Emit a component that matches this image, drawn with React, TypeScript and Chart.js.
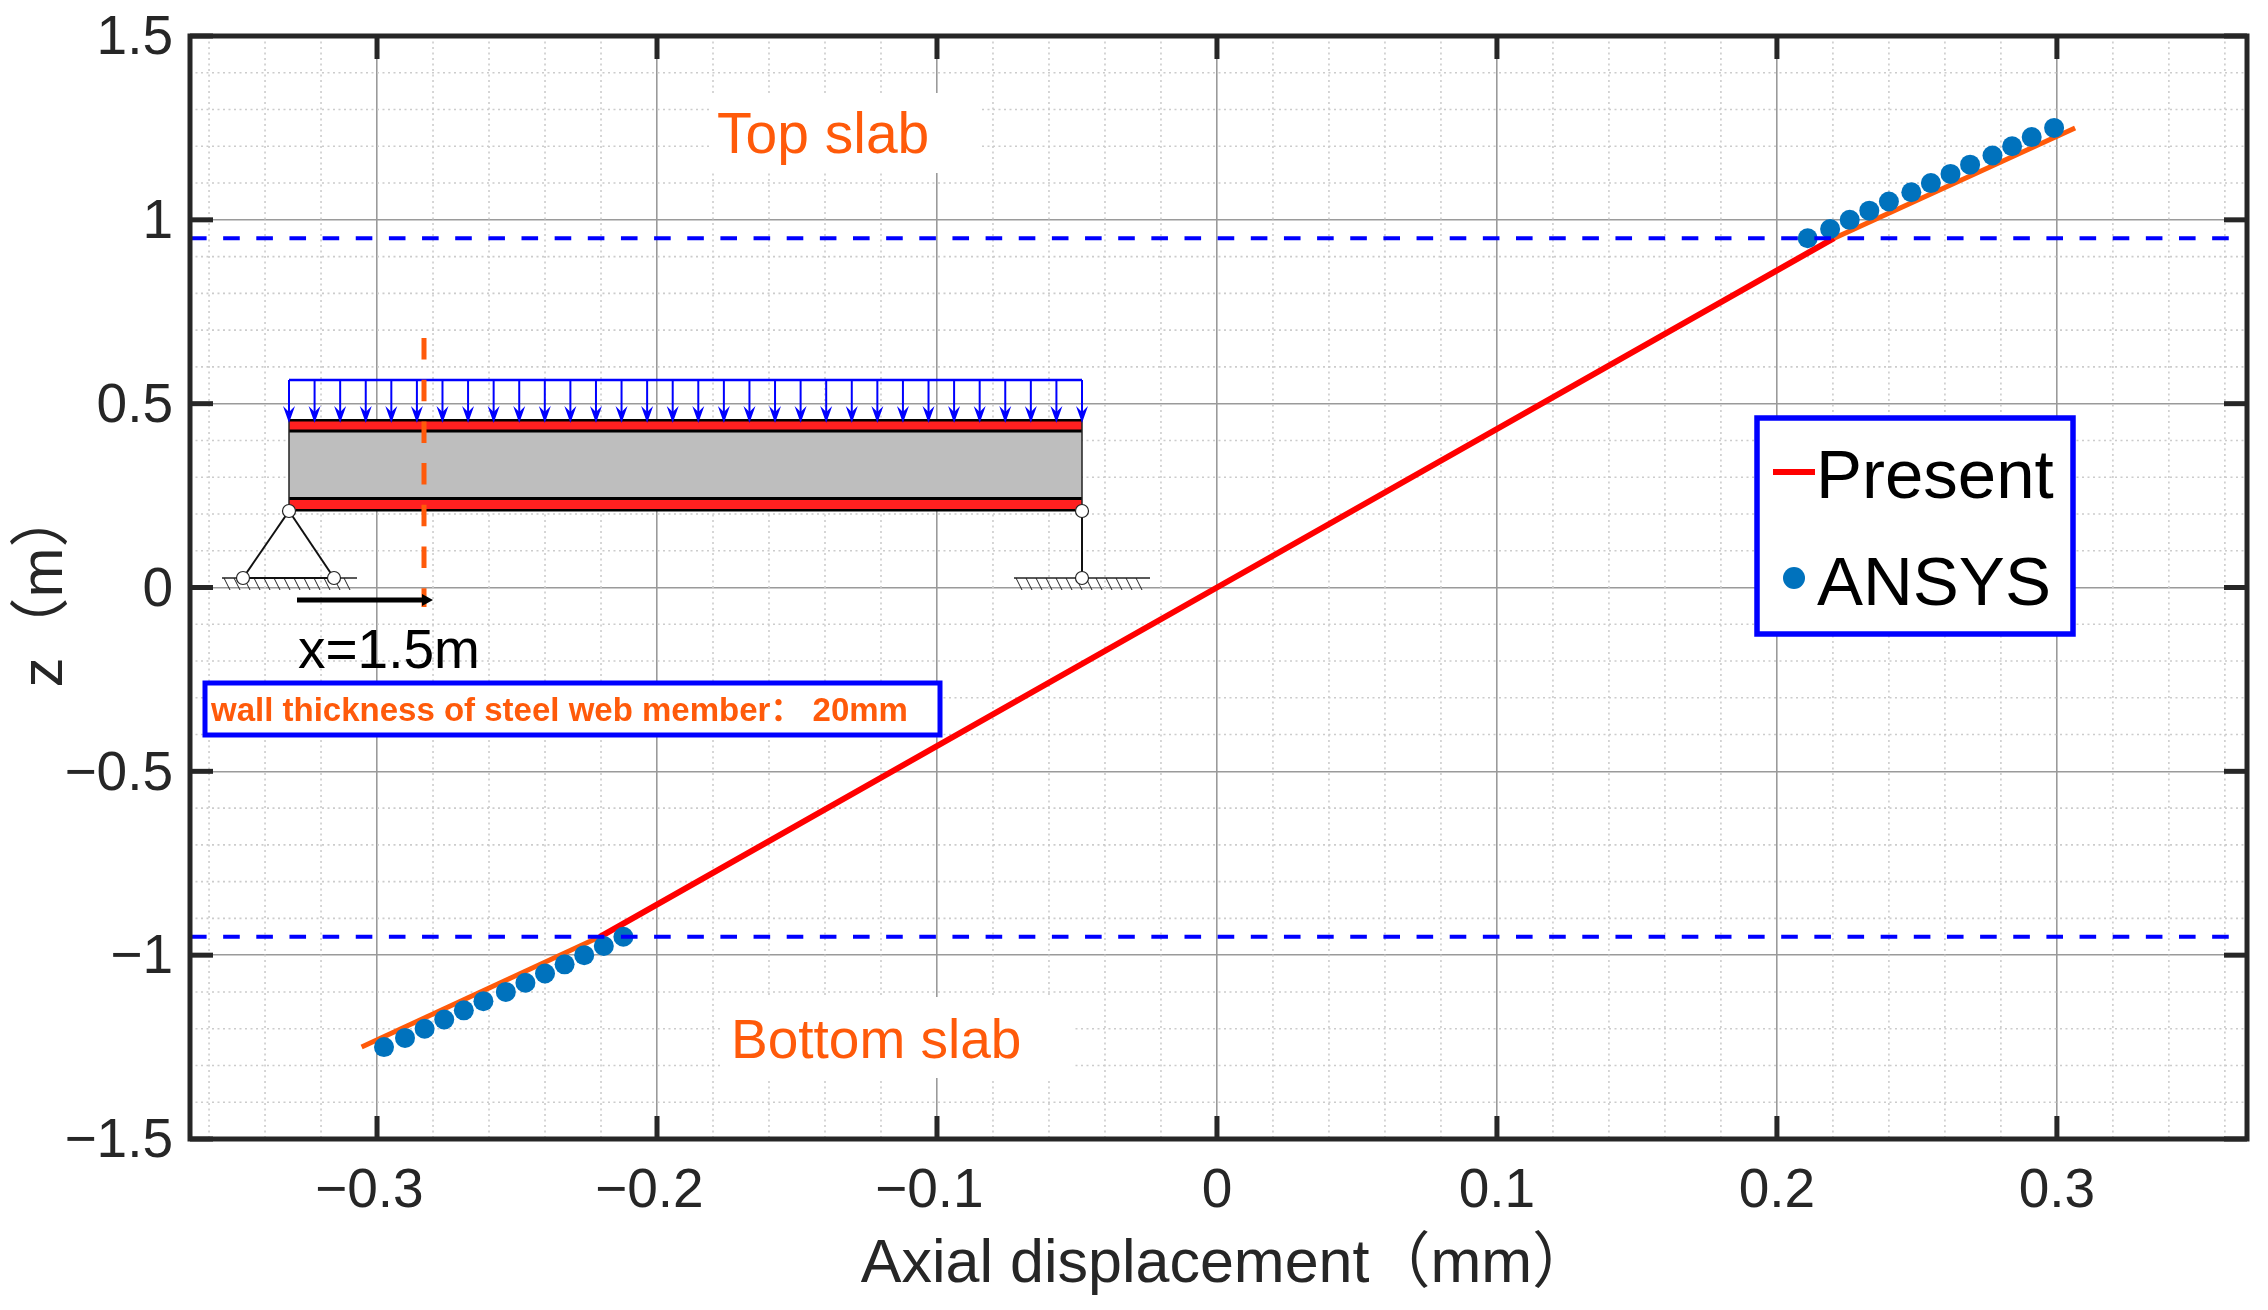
import React, { useEffect, useRef } from "react";
import { Chart, registerables } from "chart.js";

Chart.register(...registerables);

const FONT = '"Liberation Sans","Noto Sans CJK SC",sans-serif';
const xTicks = [-0.3, -0.2, -0.1, 0, 0.1, 0.2, 0.3];
const yTicks = [-1.5, -1, -0.5, 0, 0.5, 1, 1.5];
const xMinor = [-0.36, -0.34, -0.32, -0.28, -0.26, -0.24, -0.22, -0.18, -0.16, -0.14, -0.12, -0.08, -0.06, -0.04, -0.02, 0.02, 0.04, 0.06, 0.08, 0.12, 0.14, 0.16, 0.18, 0.22, 0.24, 0.26, 0.28, 0.32, 0.34, 0.36];
const yMinor = [-1.4, -1.3, -1.2, -1.1, -0.9, -0.8, -0.7, -0.6, -0.4, -0.3, -0.2, -0.1, 0.1, 0.2, 0.3, 0.4, 0.6, 0.7, 0.8, 0.9, 1.1, 1.2, 1.3, 1.4];
const xRange = [-0.3668, 0.3679];
const yRange = [-1.5, 1.5];

const webX = [-0.2204, 0, 0.2204];
const webZ = [-0.95, 0, 0.95];
const topSlabX = [0.2204, 0.3065];
const topSlabZ = [0.95, 1.25];
const bottomSlabX = [-0.3055, -0.2204];
const bottomSlabZ = [-1.25, -0.95];

const ansysTopX = [0.211, 0.219, 0.226, 0.233, 0.24, 0.248, 0.255, 0.262, 0.269, 0.277, 0.284, 0.291, 0.299];
const ansysTopZ = [0.95, 0.975, 1.0, 1.025, 1.05, 1.075, 1.1, 1.125, 1.15, 1.175, 1.2, 1.225, 1.25];
const ansysBottomX = [-0.2975, -0.29, -0.283, -0.276, -0.269, -0.262, -0.254, -0.247, -0.24, -0.233, -0.226, -0.219, -0.212];
const ansysBottomZ = [-1.25, -1.225, -1.2, -1.175, -1.15, -1.125, -1.1, -1.075, -1.05, -1.025, -1.0, -0.975, -0.95];

const boundaryX = [-0.3668, 0.3679];
const boundaryTopZ = [0.95, 0.95];
const boundaryBottomZ = [-0.95, -0.95];

const xTitle = " Axial displacement（mm）";
const yTitle = "z（m）";
const legendLabels = ["Present", "ANSYS"];
const noteTop = "Top slab";
const noteBottom = "Bottom slab";
const noteX = "x=1.5m";
const noteWall = "wall thickness of steel web member： 20mm";

const RED = "#ff0000";
const ORANGE = "#ff5a0a";
const BLUE = "#0000ff";
const MARK = "#0072bd";
const INK = "#262626";

const pts = (xs: number[], ys: number[]) => xs.map((x, i) => ({ x, y: ys[i] }));
const fmt = (v: number) => String(v).replace("-", "−");

function line(c: CanvasRenderingContext2D, x0: number, y0: number, x1: number, y1: number) {
  c.beginPath();
  c.moveTo(x0, y0);
  c.lineTo(x1, y1);
  c.stroke();
}

function ground(c: CanvasRenderingContext2D, x0: number, x1: number, y: number) {
  c.strokeStyle = "#222";
  c.lineWidth = 1.5;
  line(c, x0, y, x1, y);
  c.lineWidth = 1;
  for (let x = x0 + 2; x < x1 - 4; x += 10) line(c, x, y, x + 6, y + 12);
}

function pin(c: CanvasRenderingContext2D, x: number, y: number) {
  c.beginPath();
  c.arc(x, y, 6.5, 0, Math.PI * 2);
  c.fillStyle = "#fff";
  c.fill();
  c.strokeStyle = "#222";
  c.lineWidth = 1.2;
  c.stroke();
}

function drawInset(c: CanvasRenderingContext2D) {
  const L = 289;
  const R = 1082;
  c.save();
  // beam
  c.fillStyle = "#bebebe";
  c.fillRect(L, 431, R - L, 67);
  c.fillStyle = "#ff2020";
  c.fillRect(L, 420, R - L, 11);
  c.fillRect(L, 498, R - L, 12);
  c.fillStyle = "#000";
  c.fillRect(L, 419, R - L, 2.5);
  c.fillRect(L, 429.5, R - L, 3);
  c.fillRect(L, 497, R - L, 3);
  c.fillRect(L, 509, R - L, 2.5);
  c.strokeStyle = "#222";
  c.lineWidth = 1.5;
  line(c, L, 420, L, 510);
  line(c, R, 420, R, 510);
  // load
  c.strokeStyle = BLUE;
  c.fillStyle = BLUE;
  c.lineWidth = 2.5;
  line(c, L, 380, R, 380);
  const step = (R - L) / 31;
  for (let i = 0; i < 32; i++) {
    const x = L + i * step;
    c.lineWidth = 2;
    line(c, x, 380, x, 416);
    c.beginPath();
    c.moveTo(x, 423);
    c.lineTo(x - 6, 406);
    c.lineTo(x, 412);
    c.lineTo(x + 6, 406);
    c.closePath();
    c.fill();
  }
  // supports
  ground(c, 222, 357, 578);
  ground(c, 1014, 1150, 578);
  c.strokeStyle = "#111";
  c.lineWidth = 2;
  line(c, L, 511, 243, 578);
  line(c, L, 511, 334, 578);
  line(c, 243, 578, 334, 578);
  line(c, R, 511, R, 578);
  pin(c, L, 511);
  pin(c, R, 511);
  pin(c, 243, 578);
  pin(c, 334, 578);
  pin(c, R, 578);
  // section marker
  c.strokeStyle = ORANGE;
  c.lineWidth = 5;
  c.setLineDash([21.5, 20.2]);
  line(c, 424, 338, 424, 607);
  c.setLineDash([]);
  c.strokeStyle = "#000";
  c.fillStyle = "#000";
  c.lineWidth = 5;
  line(c, 297, 600, 425, 600);
  c.beginPath();
  c.moveTo(433, 600);
  c.lineTo(422, 594);
  c.lineTo(422, 606);
  c.closePath();
  c.fill();
  c.restore();
}

const decorations = {
  id: "decorations",
  beforeDatasetsDraw(chart: any) {
    const c: CanvasRenderingContext2D = chart.ctx;
    const { left, right, top, bottom } = chart.chartArea;
    const sx = chart.scales.x;
    const sy = chart.scales.y;
    c.save();
    // minor grid
    c.strokeStyle = "#cccccc";
    c.lineWidth = 1.6;
    c.setLineDash([2, 3.5]);
    xMinor.forEach((v) => line(c, sx.getPixelForValue(v), top, sx.getPixelForValue(v), bottom));
    yMinor.forEach((v) => line(c, left, sy.getPixelForValue(v), right, sy.getPixelForValue(v)));
    c.setLineDash([]);
    // white patches under the notes
    c.fillStyle = "#fff";
    c.fillRect(711, 93, 269, 80);
    c.fillRect(723, 997, 352, 81);
    drawInset(c);
    // notes
    c.textAlign = "left";
    c.textBaseline = "alphabetic";
    c.fillStyle = ORANGE;
    c.font = `57px ${FONT}`;
    c.fillText(noteTop, 717, 153);
    c.font = `55px ${FONT}`;
    c.fillText(noteBottom, 731, 1058);
    c.fillStyle = "#000";
    c.font = `55px ${FONT}`;
    c.fillText(noteX, 298, 668);
    // wall box
    c.fillStyle = "#fff";
    c.fillRect(205, 681, 735, 54);
    c.strokeStyle = BLUE;
    c.lineWidth = 5;
    c.strokeRect(205, 683, 735, 52);
    c.fillStyle = ORANGE;
    c.font = `bold 33px ${FONT}`;
    c.fillText(noteWall, 211, 721);
    // legend
    c.fillStyle = "#fff";
    c.fillRect(1756, 417, 317, 217);
    c.lineWidth = 5.5;
    c.strokeRect(1757, 418, 316, 216);
    c.fillStyle = RED;
    c.fillRect(1773, 469, 42, 6);
    c.fillStyle = MARK;
    c.beginPath();
    c.arc(1794, 578, 11, 0, Math.PI * 2);
    c.fill();
    c.fillStyle = "#000";
    c.font = `69px ${FONT}`;
    c.fillText(legendLabels[0], 1816, 498);
    c.fillText(legendLabels[1], 1817, 605);
    c.restore();
  },
  afterDraw(chart: any) {
    const c: CanvasRenderingContext2D = chart.ctx;
    const { left, right, top, bottom } = chart.chartArea;
    const sx = chart.scales.x;
    const sy = chart.scales.y;
    c.save();
    c.strokeStyle = INK;
    c.lineWidth = 5;
    const len = 23;
    xTicks.forEach((v) => {
      const p = sx.getPixelForValue(v);
      line(c, p, top, p, top + len);
      line(c, p, bottom, p, bottom - len);
    });
    yTicks.forEach((v) => {
      const p = sy.getPixelForValue(v);
      line(c, left, p, left + len, p);
      line(c, right, p, right - len, p);
    });
    c.strokeRect(left, top, right - left, bottom - top);
    c.restore();
  },
};

export default function App() {
  const ref = useRef<HTMLCanvasElement | null>(null);
  useEffect(() => {
    const chart = new Chart(ref.current as HTMLCanvasElement, {
      type: "scatter",
      plugins: [decorations],
      data: {
        datasets: [
          { label: "Present web", data: pts(webX, webZ), showLine: true, borderColor: RED, borderWidth: 6, pointRadius: 0, order: 3 },
          { label: "Present top slab", data: pts(topSlabX, topSlabZ), showLine: true, borderColor: ORANGE, borderWidth: 5, pointRadius: 0, order: 3 },
          { label: "Present bottom slab", data: pts(bottomSlabX, bottomSlabZ), showLine: true, borderColor: ORANGE, borderWidth: 5, pointRadius: 0, order: 3 },
          { label: "ANSYS top", data: pts(ansysTopX, ansysTopZ), pointRadius: 10, backgroundColor: MARK, borderWidth: 0, order: 2 },
          { label: "ANSYS bottom", data: pts(ansysBottomX, ansysBottomZ), pointRadius: 10, backgroundColor: MARK, borderWidth: 0, order: 2 },
          { label: "Top interface", data: pts(boundaryX, boundaryTopZ), showLine: true, borderColor: BLUE, borderWidth: 4, borderDash: [16.6, 16.55], pointRadius: 0, order: 1 },
          { label: "Bottom interface", data: pts(boundaryX, boundaryBottomZ), showLine: true, borderColor: BLUE, borderWidth: 4, borderDash: [16.6, 16.55], pointRadius: 0, order: 1 },
        ],
      },
      options: {
        animation: false,
        responsive: false,
        devicePixelRatio: 1,
        layout: { padding: { top: 36, right: 21, left: 0, bottom: 0 } },
        plugins: { legend: { display: false }, tooltip: { enabled: false } },
        scales: {
          x: {
            type: "linear",
            min: xRange[0],
            max: xRange[1],
            afterBuildTicks: (s: any) => {
              s.ticks = xTicks.map((value) => ({ value }));
            },
            afterFit: (s: any) => {
              s.height = 171;
              s.paddingLeft = 0;
              s.paddingRight = 0;
            },
            ticks: {
              autoSkip: false,
              maxRotation: 0,
              padding: 20,
              color: INK,
              font: { family: FONT, size: 55 },
              callback: (v: any) => (Number(v) < 0 ? fmt(Number(v)) + " " : fmt(Number(v))),
            },
            grid: { color: "#9a9a9a", lineWidth: 1.6, drawTicks: false },
            border: { display: false },
            title: { display: true, text: xTitle, color: INK, font: { family: FONT, size: 61 }, padding: { top: 0, bottom: 8 } },
          },
          y: {
            type: "linear",
            min: yRange[0],
            max: yRange[1],
            afterBuildTicks: (s: any) => {
              s.ticks = yTicks.map((value) => ({ value }));
            },
            afterFit: (s: any) => {
              s.width = 190;
              s.paddingTop = 0;
              s.paddingBottom = 0;
            },
            ticks: { autoSkip: false, padding: 17, labelOffset: 3, color: INK, font: { family: FONT, size: 55 }, callback: (v: any) => fmt(Number(v)) },
            grid: { color: "#9a9a9a", lineWidth: 1.6, drawTicks: false },
            border: { display: false },
            title: { display: true, text: yTitle, color: INK, font: { family: FONT, size: 60 }, padding: { top: 9, bottom: 0 } },
          },
        },
      },
    } as any);
    return () => chart.destroy();
  }, []);
  return (
    <div style={{ position: "absolute", left: 0, top: 0, width: 2268, height: 1310, background: "#fff" }}>
      <canvas ref={ref} width={2268} height={1310} style={{ display: "block" }} />
    </div>
  );
}
